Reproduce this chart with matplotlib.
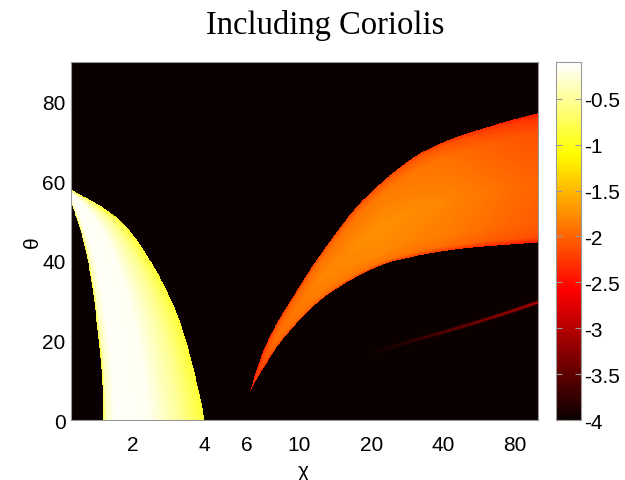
import matplotlib

matplotlib.use("Agg")
import matplotlib.pyplot as plt
import numpy as np

TITLE = "Including Coriolis"
X_LABEL = "χ"
Y_LABEL = "θ"
CHI_RANGE = (1.1, 100.0)
THETA_RANGE = (0.0, 90.0)
VALUE_RANGE = (-4.0, -0.1)
X_TICKS = [2, 4, 6, 10, 20, 40, 80]
Y_TICKS = [0, 20, 40, 60, 80]
CBAR_TICKS = [-4, -3.5, -3, -2.5, -2, -1.5, -1, -0.5]

# left lobe: inner / outer edge (chi) against theta, value profile across it
LOBE_THETA_IN = [0, 8, 24.7, 41.5, 54.7, 60]
LOBE_CHI_IN = [1.5, 1.49, 1.41, 1.28, 1.1, 1.0]
LOBE_THETA_OUT = [0, 8.25, 24.75, 41.5, 49.75, 54, 58, 60]
LOBE_CHI_OUT = [4.0, 3.75, 3.15, 2.29, 1.80, 1.45, 1.1, 1.0]
LOBE_S = [0.0, 0.03, 0.12, 0.45, 0.75, 1.0]
LOBE_VALUE = [-0.9, -0.35, -0.13, -0.16, -0.5, -0.9]

# right band: lower / upper edge (theta) against chi
BAND_CHI_UPPER = [6.22, 7.0, 9.8, 13.5, 18.6, 35.6, 68, 100]
BAND_THETA_UPPER = [7.3, 17, 32.7, 45.2, 55.5, 68.5, 74.5, 77.2]
BAND_CHI_LOWER = [6.22, 7.0, 8.3, 13.5, 25.8, 49, 100]
BAND_THETA_LOWER = [7.3, 12.7, 19.5, 32, 40.2, 43.2, 44.7]
BAND_CHI_CORE = [6.2, 8, 12, 22, 40, 70, 100]
BAND_CORE_VALUE = [-2.3, -1.93, -1.8, -1.74, -1.8, -1.92, -1.99]
BAND_T = [0.0, 0.04, 0.15, 0.45, 0.85, 0.96, 1.0]
BAND_EDGE_DROP = [-0.45, -0.15, -0.05, 0.0, -0.12, -0.28, -0.45]

# faint ridge below the band
RIDGE_CHI = [20, 30, 45, 70, 100]
RIDGE_THETA = [17, 20, 23, 26.5, 29.6]
RIDGE_PEAK = [-3.97, -3.75, -3.45, -3.2, -3.0]
RIDGE_WIDTH = 0.3


def pchip(x, y, xq):
  """Monotone cubic through (x, y), held flat outside the sample range."""
  x = np.asarray(x, float)
  y = np.asarray(y, float)
  h = np.diff(x)
  d = np.diff(y) / h
  m = np.zeros_like(y)
  m[0], m[-1] = d[0], d[-1]
  for k in range(1, len(x) - 1):
    if d[k - 1] * d[k] > 0:
      w1 = 2 * h[k] + h[k - 1]
      w2 = h[k] + 2 * h[k - 1]
      m[k] = (w1 + w2) / (w1 / d[k - 1] + w2 / d[k])
  xq = np.clip(xq, x[0], x[-1])
  i = np.clip(np.searchsorted(x, xq) - 1, 0, len(x) - 2)
  t = (xq - x[i]) / h[i]
  h00 = 2 * t**3 - 3 * t**2 + 1
  h10 = t**3 - 2 * t**2 + t
  h01 = -2 * t**3 + 3 * t**2
  h11 = t**3 - t**2
  return h00 * y[i] + h10 * h[i] * m[i] + h01 * y[i + 1] + h11 * h[i] * m[i + 1]


def build_field(chi, theta):
  C, T = np.meshgrid(chi, theta)
  L = np.log(C)
  field = np.full(C.shape, VALUE_RANGE[0])

  centre = pchip(np.log(RIDGE_CHI), RIDGE_THETA, L)
  peak = np.interp(L, np.log(RIDGE_CHI), RIDGE_PEAK)
  ridge = VALUE_RANGE[0] + (peak - VALUE_RANGE[0]) * np.exp(-0.5 * ((T - centre) / RIDGE_WIDTH) ** 2)
  field = np.where(C >= RIDGE_CHI[0], np.maximum(field, ridge), field)

  lo = pchip(np.log(BAND_CHI_LOWER), BAND_THETA_LOWER, L)
  hi = pchip(np.log(BAND_CHI_UPPER), BAND_THETA_UPPER, L)
  with np.errstate(divide="ignore", invalid="ignore"):
    t = (T - lo) / (hi - lo)
  in_band = (C >= BAND_CHI_UPPER[0]) & (t >= 0) & (t <= 1)
  band = (np.interp(L, np.log(BAND_CHI_CORE), BAND_CORE_VALUE)
          + np.interp(np.nan_to_num(t), BAND_T, BAND_EDGE_DROP))
  field = np.where(in_band, band, field)

  c_in = pchip(LOBE_THETA_IN, np.log(LOBE_CHI_IN), T)
  c_out = pchip(LOBE_THETA_OUT, np.log(LOBE_CHI_OUT), T)
  with np.errstate(divide="ignore", invalid="ignore"):
    s = (L - c_in) / (c_out - c_in)
  in_lobe = (T < LOBE_THETA_OUT[-1]) & (s >= 0) & (s <= 1)
  lobe = np.interp(np.nan_to_num(s), LOBE_S, LOBE_VALUE)
  field = np.where(in_lobe, lobe, field)
  return field


def main():
  plt.rcParams.update({
    "font.family": ["Liberation Sans", "DejaVu Sans"],
    "font.size": 15,
  })
  chi = np.geomspace(CHI_RANGE[0], CHI_RANGE[1], 1000)
  theta = np.linspace(THETA_RANGE[0], THETA_RANGE[1], 720)
  field = build_field(chi, theta)

  fig = plt.figure(figsize=(6.25, 4.81), dpi=100)
  ax = fig.add_axes([0.1136, 0.1247, 0.747, 0.744])
  cax = fig.add_axes([0.8896, 0.1247, 0.04, 0.744])

  mesh = ax.pcolormesh(chi, theta, field, cmap="hot", vmin=VALUE_RANGE[0],
                       vmax=VALUE_RANGE[1], shading="auto", rasterized=True)
  ax.set_xscale("log")
  ax.set_xlim(*CHI_RANGE)
  ax.set_ylim(*THETA_RANGE)
  ax.set_xticks(X_TICKS)
  ax.set_xticklabels([str(v) for v in X_TICKS])
  ax.xaxis.set_minor_locator(matplotlib.ticker.NullLocator())
  ax.set_yticks(Y_TICKS)
  ax.tick_params(axis="x", length=0, pad=11)
  ax.tick_params(axis="y", length=0, pad=4)
  for spine in ax.spines.values():
    spine.set_color("#999999")
    spine.set_linewidth(0.8)

  ax.set_xlabel(X_LABEL)
  ax.xaxis.set_label_coords(0.497, -0.115)
  ax.set_ylabel(Y_LABEL)
  ax.yaxis.set_label_coords(-0.062, 0.5)

  cbar = fig.colorbar(mesh, cax=cax)
  cbar.set_ticks(CBAR_TICKS)
  cbar.set_ticklabels([f"{v:g}" for v in CBAR_TICKS])
  cbar.outline.set_edgecolor("#999999")
  cbar.outline.set_linewidth(0.8)
  cax.tick_params(direction="in", length=4, color="#999999", left=True,
                  right=True, labelright=True, pad=2)

  fig.text(0.52, 1 - 34 / 481, TITLE, ha="center", va="baseline",
           fontsize=23.5, family="Liberation Serif")

  fig.savefig("out.png", dpi=100)
  plt.close(fig)


if __name__ == "__main__":
  main()
